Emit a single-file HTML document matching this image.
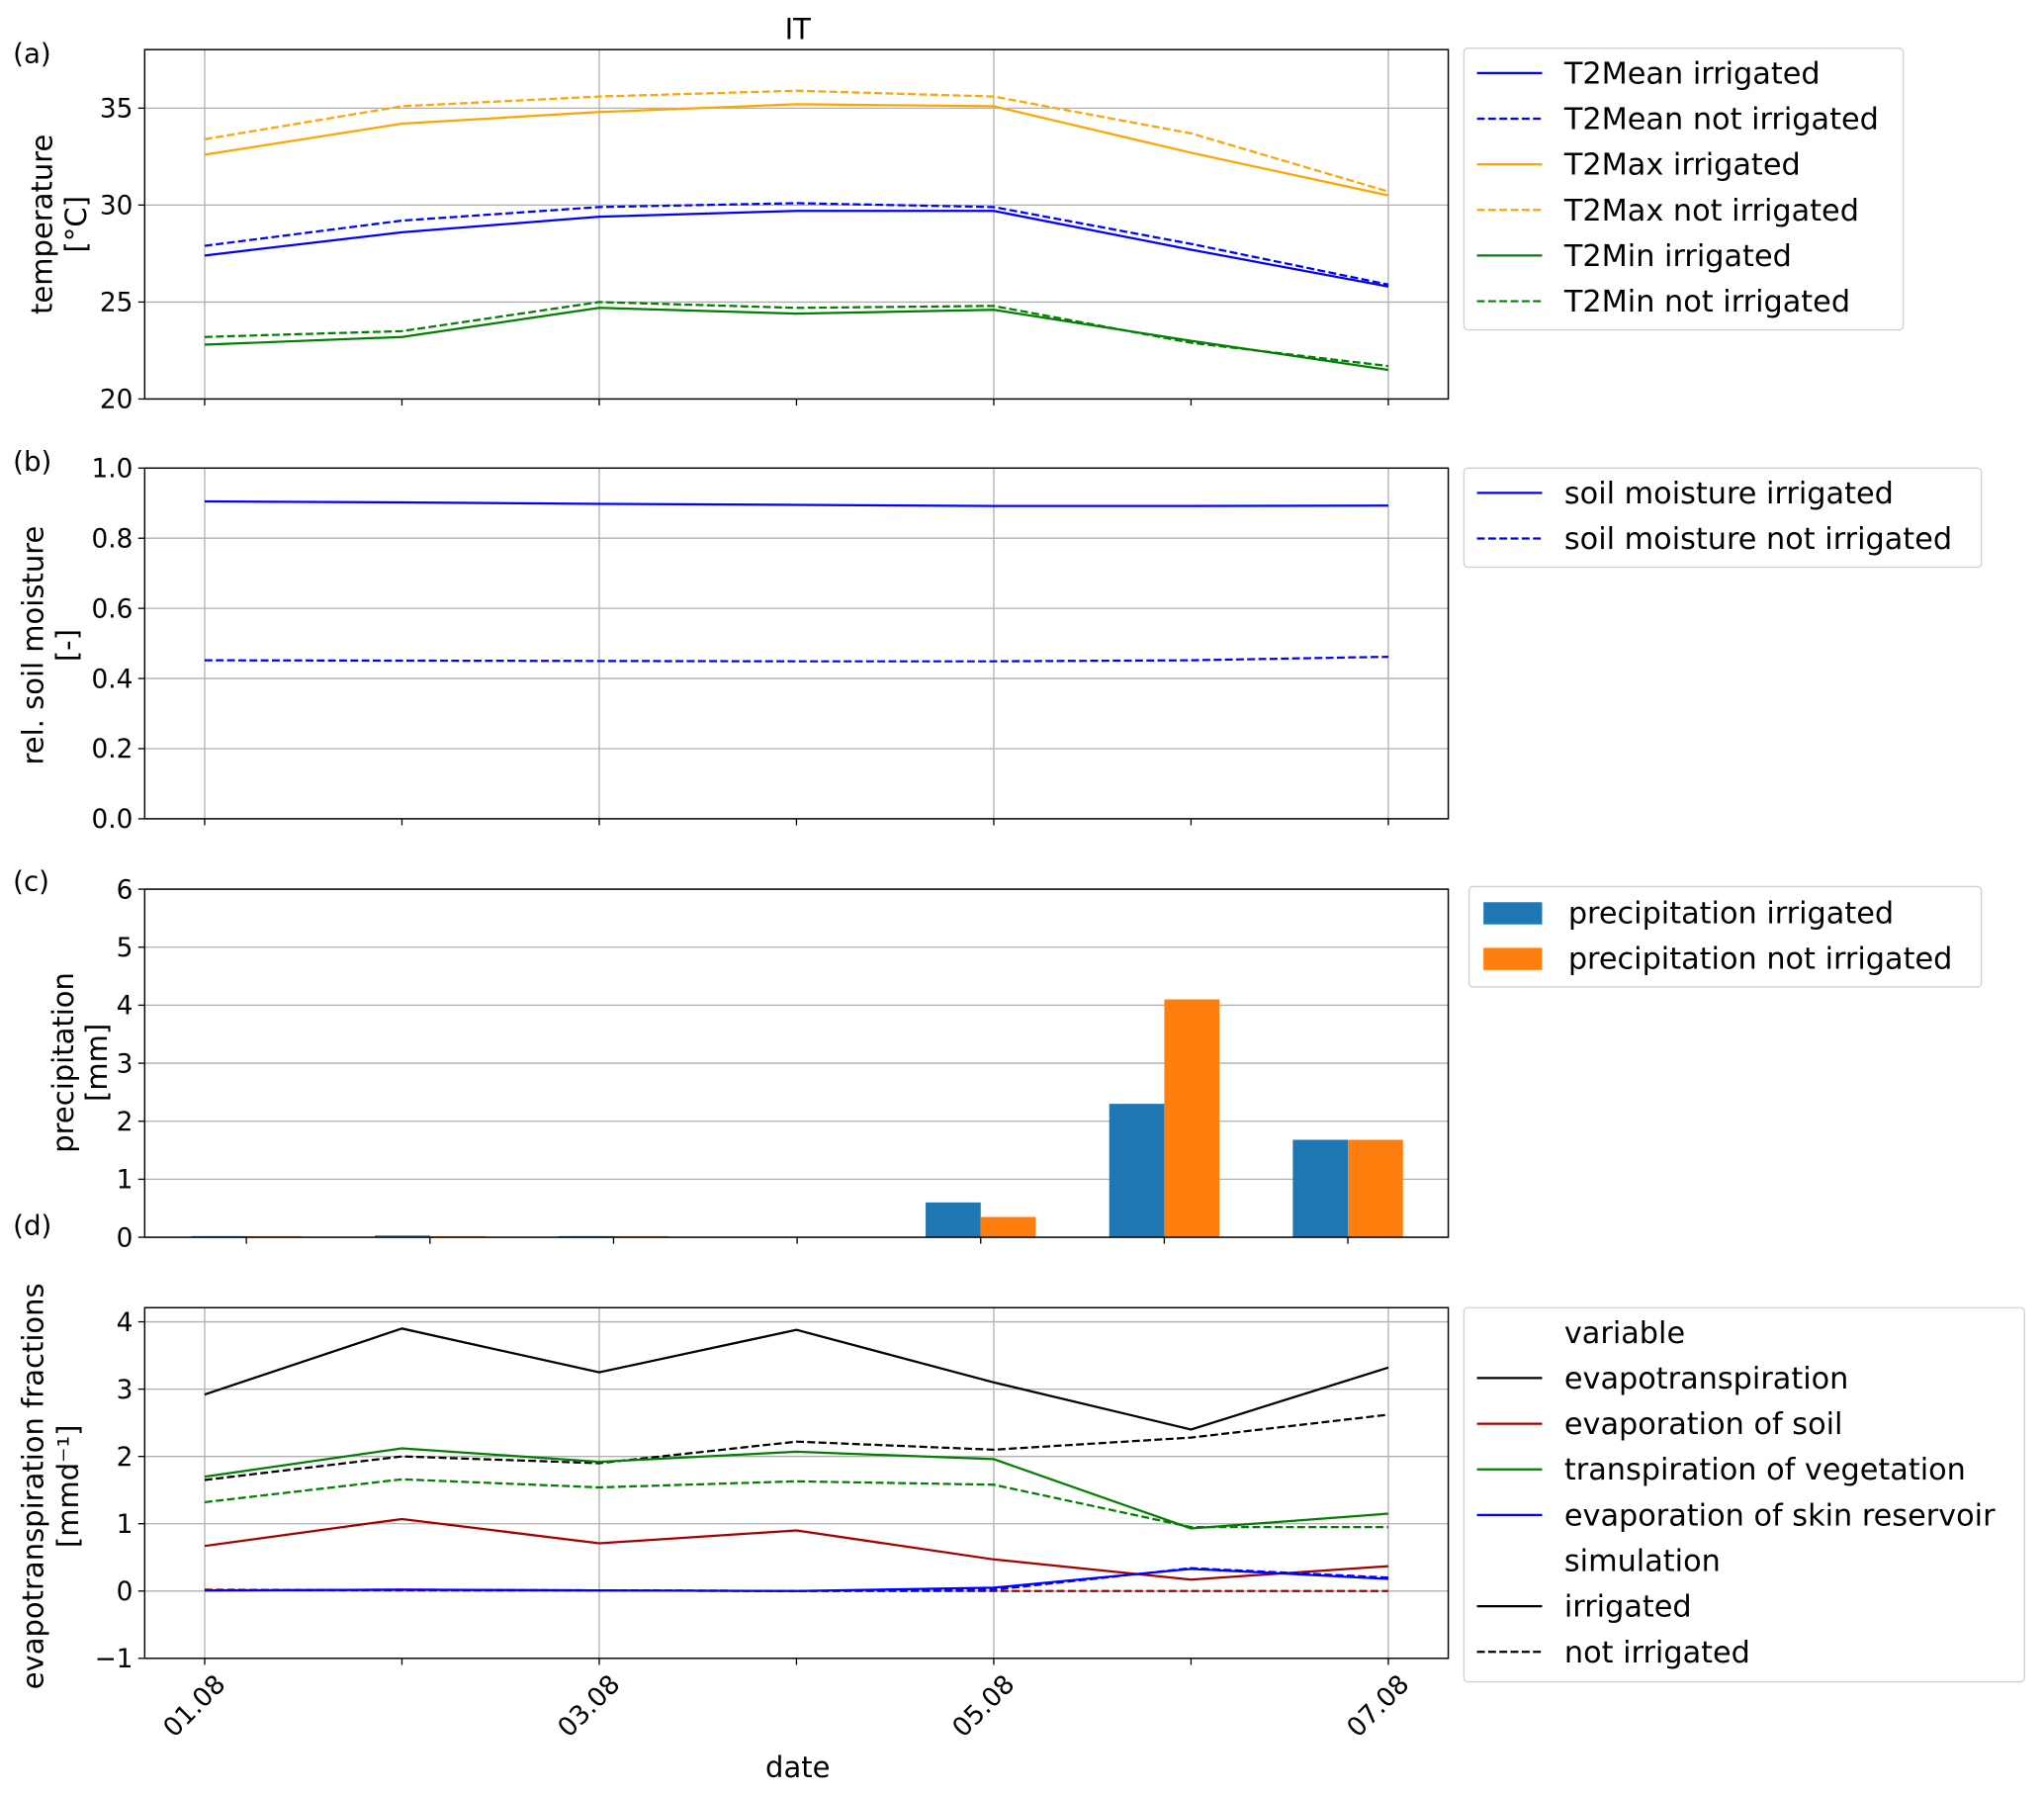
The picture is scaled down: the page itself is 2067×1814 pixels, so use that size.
<!DOCTYPE html>
<html><head><meta charset="utf-8"><style>
html,body{margin:0;padding:0;background:#fff}
svg{display:block;font-family:"DejaVu Sans","Liberation Sans",sans-serif}
</style></head><body>
<svg id="fig" width="2067" height="1814" viewBox="0 0 1568 1376" xmlns="http://www.w3.org/2000/svg"></svg>
<script>
const days = ["01.08","02.08","03.08","04.08","05.08","06.08","07.08"];
const dayTickLabels = ["01.08","","03.08","","05.08","","07.08"];
const t2meanIrr = [27.4,28.6,29.4,29.7,29.7,27.7,25.8];
const t2meanNot = [27.9,29.2,29.9,30.1,29.9,28.0,25.9];
const t2maxIrr = [32.6,34.2,34.8,35.2,35.1,32.7,30.5];
const t2maxNot = [33.4,35.1,35.6,35.9,35.6,33.7,30.7];
const t2minIrr = [22.8,23.2,24.7,24.4,24.6,23.0,21.5];
const t2minNot = [23.2,23.5,25.0,24.7,24.8,22.9,21.7];
const tempTicks = [20,25,30,35];
const smIrr = [0.905,0.902,0.898,0.895,0.892,0.892,0.893];
const smNot = [0.452,0.451,0.450,0.449,0.449,0.452,0.462];
const smTicks = [0.0,0.2,0.4,0.6,0.8,1.0];
const precIrr = [0.02,0.03,0.02,0,0.6,2.3,1.68];
const precNot = [0.02,0.02,0.02,0,0.35,4.1,1.68];
const precTicks = [0,1,2,3,4,5,6];
const etIrr = [2.92,3.9,3.25,3.88,3.1,2.4,3.32];
const etNot = [1.65,2.0,1.9,2.22,2.1,2.28,2.62];
const soilIrr = [0.67,1.07,0.71,0.9,0.47,0.17,0.37];
const soilNot = [0.02,0.01,0.01,0.0,0.0,0.0,0.0];
const transIrr = [1.7,2.12,1.92,2.07,1.96,0.93,1.15];
const transNot = [1.32,1.66,1.54,1.63,1.58,0.95,0.95];
const skinIrr = [0.01,0.02,0.01,0.0,0.05,0.33,0.18];
const skinNot = [0.01,0.02,0.01,0.0,0.02,0.34,0.2];
const etTicks = [-1,0,1,2,3,4];

const NS="http://www.w3.org/2000/svg";
const svg=document.getElementById('fig');
function el(tag,attrs,parent){const e=document.createElementNS(NS,tag);for(const k in attrs)e.setAttribute(k,attrs[k]);(parent||svg).appendChild(e);return e;}
function txt(s,attrs,parent){const e=el('text',attrs,parent);e.textContent=s;return e;}

const L=111,R=1111;
const xLine=i=>157+i*(1065-157)/6;
const xBar=v=>189+v*(1034-189)/6;
const TF=20, AF=22, LF=23, LW=1.7;

function axes(name,top,bottom,ymin,ymax,ticks,fmt,vgrid,xt){
  const g=el('g',{});
  
  
  const y=v=>bottom-(v-ymin)/(ymax-ymin)*(bottom-top);
  ticks.forEach(t=>{
    const gl=el('line',{x1:L,x2:R,y1:y(t),y2:y(t),stroke:'#b0b0b0','stroke-width':1},g);
    
    
    el('line',{x1:L-5,x2:L,y1:y(t),y2:y(t),stroke:'#000','stroke-width':1},g);
    const tl=txt(fmt(t),{x:L-9,y:y(t)+7,'text-anchor':'end','font-size':TF},g);
    
    
  });
  for(let i=0;i<7;i++){
    const x=xt(i);
    if(vgrid && i%2===0){
      const vg=el('line',{x1:x,x2:x,y1:top,y2:bottom,stroke:'#b0b0b0','stroke-width':1},g);
      
      
    }
    el('line',{x1:x,x2:x,y1:bottom,y2:bottom+5,stroke:'#000','stroke-width':1},g);
  }
  return {g,y};
}
function frame(top,bottom){const f=el('rect',{x:L,y:top,width:R-L,height:bottom-top,fill:'none',stroke:'#000','stroke-width':1.1});}
function series(name,vals,y,color,dash){
  const p=el('polyline',{points:vals.map((v,i)=>xLine(i)+','+y(v)).join(' '),fill:'none',stroke:color,'stroke-width':LW,'stroke-dasharray':dash?'6,2.6':'none'});
  
  
}
function legend(name,x,y,w,h,items,textX){
  const g=el('g',{});
  
  
  el('rect',{x:x,y:y,width:w,height:h,rx:3,fill:'#fff',stroke:'#d0d0d0','stroke-width':1},g);
  items.forEach(it=>{
    if(it.color && !it.patch) el('line',{x1:x+10,x2:x+60,y1:it.y,y2:it.y,stroke:it.color,'stroke-width':LW,'stroke-dasharray':it.dash?'6,2.6':'none'},g);
    if(it.patch) el('rect',{x:x+11,y:it.y-8,width:45,height:17,fill:it.color},g);
    const t=txt(it.label,{x:textX,y:it.y+8,'font-size':LF},g);
    
    
  });
}
const C={blue:'#0000ff',orange:'#ffa500',green:'#008000',red:'#a50000',black:'#000'};

let t=txt('IT',{x:612,y:30,'text-anchor':'middle','font-size':AF});
[['(a)',48],['(b)',361],['(c)',683],['(d)',947]].forEach(([s,yy])=>{const e=txt(s,{x:10,y:yy,'font-size':TF+1});});

{const a=axes('temperature-panel',38,306,20,38.02,tempTicks,v=>String(v),true,xLine);
series('t2mean-irrigated',t2meanIrr,a.y,C.blue,false);
series('t2mean-not-irrigated',t2meanNot,a.y,C.blue,true);
series('t2max-irrigated',t2maxIrr,a.y,C.orange,false);
series('t2max-not-irrigated',t2maxNot,a.y,C.orange,true);
series('t2min-irrigated',t2minIrr,a.y,C.green,false);
series('t2min-not-irrigated',t2minNot,a.y,C.green,true);
frame(38,306);
const yl=txt('temperature',{transform:'translate(40,172) rotate(-90)','text-anchor':'middle','font-size':AF});
const yl2=txt('[°C]',{transform:'translate(66,172) rotate(-90)','text-anchor':'middle','font-size':AF});
legend('temperature-legend',1123,37,337,216,[
 {label:'T2Mean irrigated',color:C.blue,y:56},{label:'T2Mean not irrigated',color:C.blue,dash:1,y:91},
 {label:'T2Max irrigated',color:C.orange,y:126},{label:'T2Max not irrigated',color:C.orange,dash:1,y:161},
 {label:'T2Min irrigated',color:C.green,y:196},{label:'T2Min not irrigated',color:C.green,dash:1,y:231}],1200);
}
{const b=axes('soil-moisture-panel',359,628,0,1,smTicks,v=>v.toFixed(1),true,xLine);
series('soil-moisture-irrigated',smIrr,b.y,C.blue,false);
series('soil-moisture-not-irrigated',smNot,b.y,C.blue,true);
frame(359,628);
const yl=txt('rel. soil moisture',{transform:'translate(33,495) rotate(-90)','text-anchor':'middle','font-size':AF});
const yl2=txt('[-]',{transform:'translate(59,495) rotate(-90)','text-anchor':'middle','font-size':AF});
legend('soil-moisture-legend',1123,359,397,76,[
 {label:'soil moisture irrigated',color:C.blue,y:378},{label:'soil moisture not irrigated',color:C.blue,dash:1,y:413}],1200);
}
{const c=axes('precipitation-panel',682,949,0,6,precTicks,v=>String(v),false,xBar);
const bw=0.3*(xBar(1)-xBar(0));
precIrr.forEach((v,i)=>{const r=el('rect',{x:xBar(i)-bw,y:c.y(v),width:bw,height:c.y(0)-c.y(v),fill:'#1f77b4'});});
precNot.forEach((v,i)=>{const r=el('rect',{x:xBar(i),y:c.y(v),width:bw,height:c.y(0)-c.y(v),fill:'#ff7f0e'});});
frame(682,949);
const yl=txt('precipitation',{transform:'translate(56,815) rotate(-90)','text-anchor':'middle','font-size':AF});
const yl2=txt('[mm]',{transform:'translate(82,815) rotate(-90)','text-anchor':'middle','font-size':AF});
legend('precipitation-legend',1127,680,393,77,[
 {label:'precipitation irrigated',color:'#1f77b4',patch:1,y:700},{label:'precipitation not irrigated',color:'#ff7f0e',patch:1,y:735}],1203);
}
{const d=axes('evapotranspiration-panel',1003,1272,-1,4.21,etTicks,v=>v<0?'\u2212'+Math.abs(v):String(v),true,xLine);
series('et-irrigated',etIrr,d.y,C.black,false);
series('et-not-irrigated',etNot,d.y,C.black,true);
series('soil-evap-irrigated',soilIrr,d.y,C.red,false);
series('soil-evap-not-irrigated',soilNot,d.y,C.red,true);
series('transpiration-irrigated',transIrr,d.y,C.green,false);
series('transpiration-not-irrigated',transNot,d.y,C.green,true);
series('skin-evap-irrigated',skinIrr,d.y,C.blue,false);
series('skin-evap-not-irrigated',skinNot,d.y,C.blue,true);
frame(1003,1272);
const yl=txt('evapotranspiration fractions',{transform:'translate(33,1140) rotate(-90)','text-anchor':'middle','font-size':AF});
const yl2=txt('[mmd\u207B\u00B9]',{transform:'translate(60,1140) rotate(-90)','text-anchor':'middle','font-size':AF});
dayTickLabels.forEach((s,i)=>{if(!s)return;const x=xLine(i);const e=txt(s,{transform:`translate(${x+17},${1293}) rotate(-45)`,'text-anchor':'end','font-size':TF});});
const xl=txt('date',{x:612,y:1363,'text-anchor':'middle','font-size':AF});
legend('evapotranspiration-legend',1123,1003,430,287,[
 {label:'variable',y:1022},{label:'evapotranspiration',color:C.black,y:1057},
 {label:'evaporation of soil',color:C.red,y:1092},{label:'transpiration of vegetation',color:C.green,y:1127},
 {label:'evaporation of skin reservoir',color:C.blue,y:1162},{label:'simulation',y:1197},
 {label:'irrigated',color:C.black,y:1232},{label:'not irrigated',color:C.black,dash:1,y:1267}],1200);
}
</script>
</body></html>
